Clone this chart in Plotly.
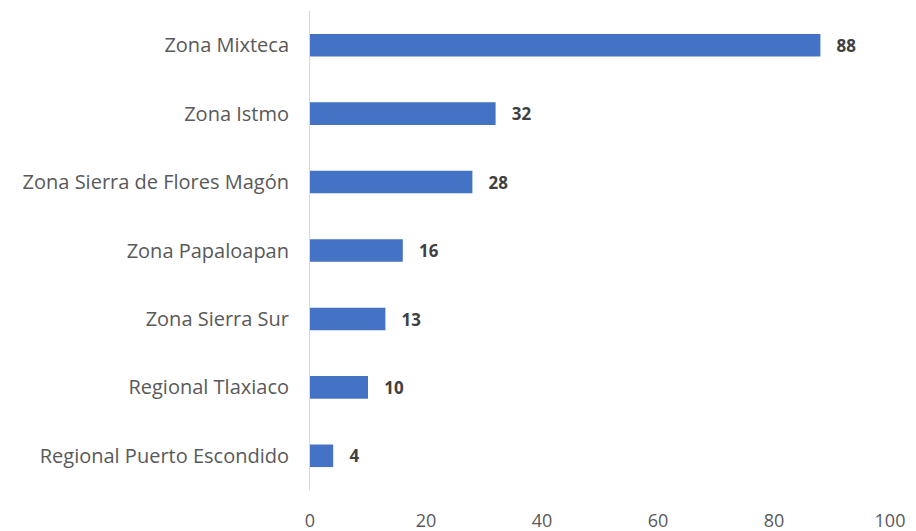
import plotly.graph_objects as go

categories = ["Zona Mixteca", "Zona Istmo", "Zona Sierra de Flores Magón", "Zona Papaloapan",
              "Zona Sierra Sur", "Regional Tlaxiaco", "Regional Puerto Escondido"]
values = [88, 32, 28, 16, 13, 10, 4]
x_ticks = [0, 20, 40, 60, 80, 100]

FONT = "Open Sans, Lato, sans-serif"

fig = go.Figure(go.Bar(
    y=categories, x=values, orientation="h",
    marker=dict(color="#4472C4", line=dict(width=0)),
    width=0.33,
    text=[f"<b>{v}</b>" for v in values],
    textposition="outside",
    texttemplate="   %{text}",
    textfont=dict(family=FONT, size=18, color="#404040"),
    cliponaxis=False,
))

fig.update_layout(
    width=916, height=531,
    margin=dict(l=302, r=34, t=3, b=49),
    plot_bgcolor="white", paper_bgcolor="white",
    showlegend=False,
    font=dict(family=FONT, size=18, color="#595959"),
    xaxis=dict(range=[0, 100], tickvals=x_ticks, showgrid=False, zeroline=False,
               showline=False, ticks="outside", ticklen=14, tickcolor="rgba(0,0,0,0)",
               tickfont=dict(size=18, color="#595959"), automargin=False),
    yaxis=dict(categoryorder="array", categoryarray=categories[::-1], showgrid=False,
               showline=True, linecolor="#D9D9D9", linewidth=1, ticks="outside",
               ticklen=16, tickcolor="rgba(0,0,0,0)",
               tickfont=dict(size=20, color="#595959"), automargin=False),
)

fig.write_html("out.html")
